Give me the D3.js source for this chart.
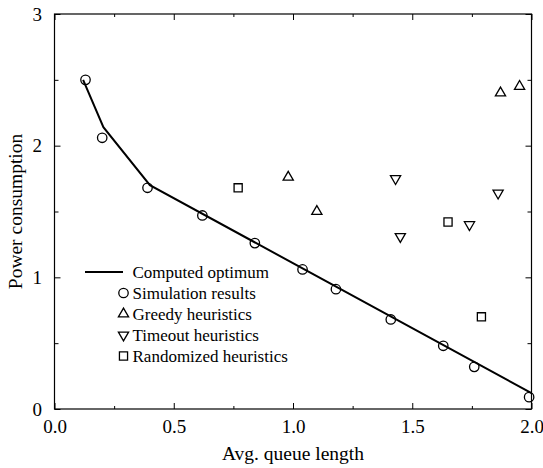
<!DOCTYPE html>
<html>
<head>
<meta charset="utf-8">
<script src="https://cdn.jsdelivr.net/npm/d3@7"></script>
<style>
  body { margin: 0; background: #fff; }
  text { font-family: "Liberation Serif", "Times New Roman", Times, serif; fill: #000; }
</style>
</head>
<body>
<div id="chart"></div>
<script>
// computed optimum (polyline)
const optX = [0.12, 0.205, 0.40, 2.0];
const optY = [2.50, 2.14, 1.70, 0.12];
// simulation results
const simX = [0.13, 0.20, 0.39, 0.62, 0.84, 1.04, 1.18, 1.41, 1.63, 1.76, 1.99];
const simY = [2.50, 2.06, 1.68, 1.47, 1.26, 1.06, 0.91, 0.68, 0.48, 0.32, 0.09];
// greedy heuristics
const greedyX = [0.98, 1.10, 1.87, 1.95];
const greedyY = [1.76, 1.50, 2.40, 2.45];
// timeout heuristics
const timeoutX = [1.43, 1.45, 1.74, 1.86];
const timeoutY = [1.75, 1.31, 1.40, 1.64];
// randomized heuristics
const randX = [0.77, 1.65, 1.79];
const randY = [1.68, 1.42, 0.70];

const xTicks = [0, 0.5, 1, 1.5, 2];
const yTicks = [0, 1, 2, 3];
const legendLabels = ['Computed optimum', 'Simulation results', 'Greedy heuristics', 'Timeout heuristics', 'Randomized heuristics'];

const config = { width: 543, height: 468, left: 54.5, right: 11.5, top: 14, bottom: 59 };
const innerW = config.width - config.left - config.right;
const innerH = config.height - config.top - config.bottom;

const svg = d3.select('#chart').append('svg')
  .attr('width', config.width)
  .attr('height', config.height);

const g = svg.append('g')
  .attr('transform', `translate(${config.left}, ${config.top})`);

const x = d3.scaleLinear().domain([0, 2]).range([0, innerW]);
const y = d3.scaleLinear().domain([0, 3]).range([innerH, 0]);

// frame
g.append('rect')
  .attr('width', innerW).attr('height', innerH)
  .attr('fill', 'none').attr('stroke', '#000').attr('stroke-width', 1.2);

function styleAxis(sel) {
  sel.select('.domain').remove();
  sel.selectAll('line').attr('stroke', '#000').attr('stroke-width', 1);
  sel.selectAll('text').style('font-size', '19px').style('font-family', '"Liberation Serif", serif');
}

// x axes
g.append('g').attr('transform', `translate(0, ${innerH})`)
  .call(d3.axisBottom(x).tickValues(d3.range(0.25, 2, 0.5)).tickSize(-3).tickFormat(''))
  .call(styleAxis);
g.append('g').attr('transform', `translate(0, ${innerH})`)
  .call(d3.axisBottom(x).tickValues(xTicks).tickSize(-6).tickPadding(11).tickFormat(d3.format('.1f')))
  .call(styleAxis);
g.append('g')
  .call(d3.axisTop(x).tickValues(d3.range(0.25, 2, 0.5)).tickSize(-3).tickFormat(''))
  .call(styleAxis);
g.append('g')
  .call(d3.axisTop(x).tickValues(xTicks).tickSize(-6).tickFormat(''))
  .call(styleAxis);

// y axes
g.append('g')
  .call(d3.axisLeft(y).tickValues([0.5, 1.5, 2.5]).tickSize(-4).tickFormat(''))
  .call(styleAxis);
g.append('g')
  .call(d3.axisLeft(y).tickValues(yTicks).tickSize(-6).tickPadding(12.5).tickFormat(d3.format('d')))
  .call(styleAxis);
g.append('g').attr('transform', `translate(${innerW}, 0)`)
  .call(d3.axisRight(y).tickValues([0.5, 1.5, 2.5]).tickSize(-4).tickFormat(''))
  .call(styleAxis);
g.append('g').attr('transform', `translate(${innerW}, 0)`)
  .call(d3.axisRight(y).tickValues(yTicks).tickSize(-6).tickFormat(''))
  .call(styleAxis);

// axis titles
svg.append('text')
  .attr('x', config.left + innerW / 2)
  .attr('y', 460)
  .attr('text-anchor', 'middle')
  .style('font-size', '19.5px')
  .text('Avg. queue length');

svg.append('text')
  .attr('transform', `translate(22, ${config.top + innerH / 2}) rotate(-90)`)
  .attr('text-anchor', 'middle')
  .style('font-size', '19.5px')
  .text('Power consumption');

// optimum line
const optData = optX.map((d, i) => [d, optY[i]]);
g.append('path')
  .datum(optData)
  .attr('fill', 'none')
  .attr('stroke', '#000')
  .attr('stroke-width', 2)
  .attr('d', d3.line().x(d => x(d[0])).y(d => y(d[1])));

const circleSym = d3.symbol().type(d3.symbolCircle).size(70)();
const triSym = d3.symbol().type(d3.symbolTriangle).size(45)();
const squareSym = d3.symbol().type(d3.symbolSquare).size(66)();

function drawMarks(xs, ys, sym, rot, cls) {
  g.selectAll('.' + cls)
    .data(xs.map((d, i) => [d, ys[i]]))
    .join('path')
    .attr('class', cls)
    .attr('d', sym)
    .attr('transform', d => `translate(${x(d[0])}, ${y(d[1])}) rotate(${rot})`)
    .attr('fill', 'none')
    .attr('stroke', '#000')
    .attr('stroke-width', 1.3);
}

drawMarks(simX, simY, circleSym, 0, 'sim');
drawMarks(greedyX, greedyY, triSym, 0, 'greedy');
drawMarks(timeoutX, timeoutY, triSym, 180, 'timeout');
drawMarks(randX, randY, squareSym, 0, 'rand');

// legend
const legend = svg.append('g');
const legY0 = 272, legStep = 21;
const legSyms = [null, [circleSym, 0], [triSym, 0], [triSym, 180], [squareSym, 0]];
legendLabels.forEach((lab, i) => {
  const ly = legY0 + i * legStep;
  if (i === 0) {
    legend.append('line')
      .attr('x1', 85).attr('x2', 123).attr('y1', ly).attr('y2', ly)
      .attr('stroke', '#000').attr('stroke-width', 2);
  } else {
    legend.append('path')
      .attr('d', legSyms[i][0])
      .attr('transform', `translate(123.5, ${ly}) rotate(${legSyms[i][1]})`)
      .attr('fill', 'none').attr('stroke', '#000').attr('stroke-width', 1.3);
  }
  legend.append('text')
    .attr('x', 132.5).attr('y', ly).attr('dy', '0.33em')
    .style('font-size', '17px')
    .text(lab);
});
</script>
</body>
</html>
